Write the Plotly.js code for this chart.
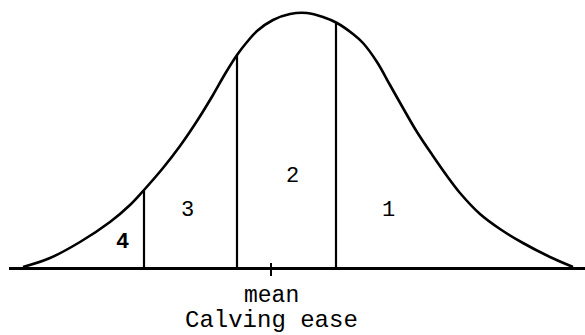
<!DOCTYPE html>
<html>
<head>
<meta charset="utf-8">
<script src="https://cdn.plot.ly/plotly-3.0.1.min.js"></script>
<style>html,body{margin:0;padding:0;background:#fff;}#chart{width:585px;height:335px;}</style>
</head>
<body>
<div id="chart"></div>
<script>
// Curve (x position, height above baseline)
const curveX = [23, 50, 80, 110, 130, 144, 163, 180, 197, 213, 225, 237, 247, 257, 273, 290, 307, 323, 337, 353, 363, 377, 390, 403, 417, 433, 447, 460, 480, 500, 523, 550, 573];
const curveY = [0, 9, 25, 45, 62, 77, 99, 121, 146, 172, 193, 212, 225, 236, 247, 253, 254, 250, 244, 233, 224, 205, 182, 159, 135, 111, 91, 74, 53, 38, 24, 10, 0];

// Dividing lines between the calving ease classes
const dividerX = [144, 237, 336];
const dividerTop = [77, 212, 244];

// Class labels
const regionLabels = ['4', '3', '2', '1'];
const labelX = [122, 187, 292, 388];
const labelY = [25, 57, 91, 57];

// Mean marker
const meanX = 271;
const meanLabel = 'mean';
const axisTitle = 'Calving ease';

const divX = [], divY = [];
dividerX.forEach((x, i) => { divX.push(x, x, null); divY.push(0, dividerTop[i], null); });

const traces = [
  {x: curveX, y: curveY, type: 'scatter', mode: 'lines',
   line: {color: '#000', width: 2.6, shape: 'spline', smoothing: 1}, hoverinfo: 'skip'},
  {x: divX, y: divY, type: 'scatter', mode: 'lines',
   line: {color: '#000', width: 2.2}, hoverinfo: 'skip'}
];

const mono = 'Liberation Mono, Courier New, monospace';
const annotations = regionLabels.map((t, i) => ({
  x: labelX[i], y: labelY[i], xref: 'x', yref: 'y', text: t, showarrow: false,
  font: {family: mono, size: 22, color: '#000', weight: t === '4' ? 'bold' : 'normal'},
  xanchor: 'center', yanchor: 'middle'
}));
annotations.push({
  x: meanX, y: 0, xref: 'x', yref: 'paper', text: meanLabel, showarrow: false,
  font: {family: mono, size: 23, color: '#000'}, xanchor: 'center', yanchor: 'middle',
  yshift: -29, borderpad: 0
});
annotations.push({
  x: meanX, y: 0, xref: 'x', yref: 'paper', text: axisTitle, showarrow: false,
  font: {family: mono, size: 24, color: '#000'}, xanchor: 'center', yanchor: 'middle',
  yshift: -53, borderpad: 0
});

const layout = {
  width: 585, height: 335,
  margin: {l: 9, r: 0, t: 0, b: 68},
  paper_bgcolor: '#fff', plot_bgcolor: '#fff',
  showlegend: false,
  xaxis: {
    range: [9, 585], showline: true, linecolor: '#000', linewidth: 2.5,
    showgrid: false, zeroline: false,
    ticks: 'outside', ticklen: 6, tickwidth: 2, tickcolor: '#000',
    tickvals: [meanX], showticklabels: false
  },
  yaxis: {range: [0, 267], visible: false, showgrid: false, zeroline: false},
  shapes: [{type: 'line', xref: 'x', yref: 'y', x0: meanX, x1: meanX, y0: 0, y1: 4,
            line: {color: '#000', width: 2}}],
  annotations: annotations
};

Plotly.newPlot('chart', traces, layout, {displayModeBar: false, staticPlot: true});
</script>
</body>
</html>
